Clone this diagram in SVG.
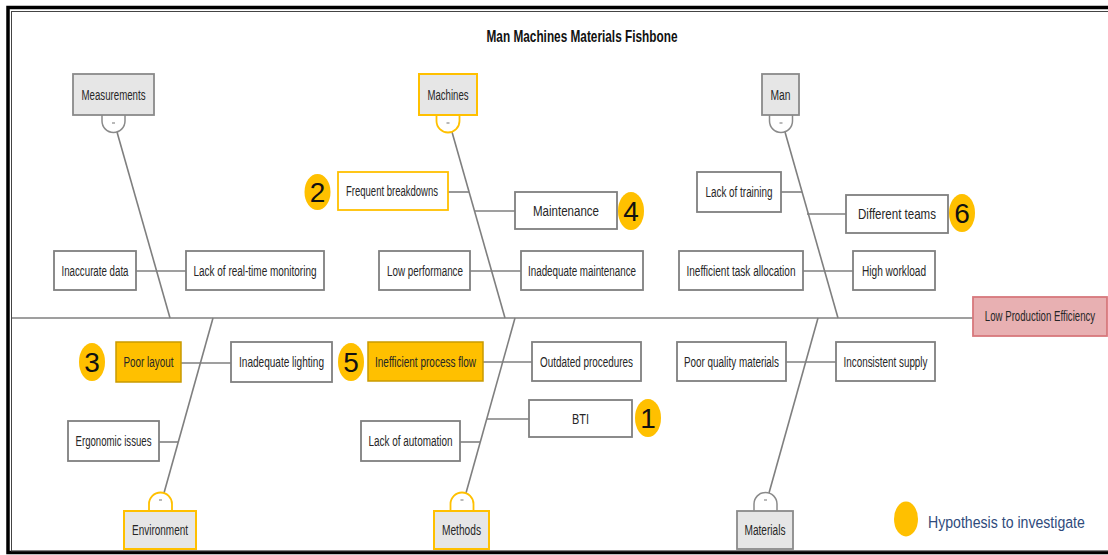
<svg xmlns="http://www.w3.org/2000/svg" width="1108" height="555" viewBox="0 0 1108 555">
  <style>
    text { font-family: "Liberation Sans", Arial, sans-serif; fill: #262626; }
    .t { font-size: 14px; text-anchor: middle; }
    .box { fill: #ffffff; stroke: #7f7f7f; stroke-width: 1.8; }
    .hot { fill: #ffc000; stroke: #c99a00; stroke-width: 1.5; }
    .cat { fill: #e6e6e6; stroke: #8a8a8a; stroke-width: 1.8; }
    .catY { fill: #e6e6e6; stroke: #ffc000; stroke-width: 2; }
    .arc { fill: #ffffff; stroke: #8a8a8a; stroke-width: 1.5; }
    .arcY { fill: #ffffff; stroke: #ffc000; stroke-width: 1.8; }
    .dash { stroke: #8a8a8a; stroke-width: 1.2; }
    .ln { stroke: #7f7f7f; stroke-width: 1.6; fill: none; }
    .badge { fill: #ffc000; }
    .num { font-size: 28px; text-anchor: middle; fill: #111; }
    .title { font-size: 17px; font-weight: bold; text-anchor: middle; fill: #111; }
    .legend { font-size: 17px; fill: #2f4b7c; }
  </style>

  <rect width="1108" height="555" fill="#ffffff"/>
  <!-- double frame -->
  <rect x="8" y="7.5" width="1200" height="545" fill="none" stroke="#000" stroke-width="3.5"/>
  <rect x="11.5" y="11.5" width="1200" height="539.5" fill="none" stroke="#444" stroke-width="1"/>

  <text class="title" x="582" y="42" textLength="191" lengthAdjust="spacingAndGlyphs">Man Machines Materials Fishbone</text>

  <!-- spine, bones and branch lines -->
  <g id="connectors" class="ln">
    <line x1="12" y1="318" x2="973" y2="318"/>
    <line x1="117" y1="132" x2="170" y2="318"/>
    <line x1="452" y1="132" x2="505" y2="318"/>
    <line x1="785" y1="132" x2="838" y2="318"/>
    <line x1="164" y1="493" x2="213" y2="318"/>
    <line x1="466" y1="493" x2="515" y2="318"/>
    <line x1="769" y1="493" x2="818" y2="318"/>
    <line x1="136" y1="271" x2="186" y2="271"/>
    <line x1="470" y1="271" x2="521" y2="271"/>
    <line x1="803" y1="271" x2="853" y2="271"/>
    <line x1="181" y1="363" x2="231" y2="363"/>
    <line x1="483" y1="362" x2="532" y2="362"/>
    <line x1="786" y1="362" x2="836" y2="362"/>
    <line x1="448" y1="192" x2="469" y2="192"/>
    <line x1="474" y1="211" x2="515" y2="211"/>
    <line x1="781" y1="192" x2="802" y2="192"/>
    <line x1="807" y1="214" x2="846" y2="214"/>
    <line x1="159" y1="442" x2="178" y2="442"/>
    <line x1="460" y1="442" x2="480" y2="442"/>
    <line x1="487" y1="419" x2="529" y2="419"/>
  </g>

  <!-- category heads -->
  <g id="measurements">
    <path class="arc" d="M102,115 V121 A11.5,11.5 0 0 0 125,121 V115"/>
    <line class="dash" x1="112" y1="123" x2="115" y2="123"/>
    <rect class="cat" x="73" y="74" width="81" height="41"/>
    <text class="t" x="113.5" y="100" textLength="64" lengthAdjust="spacingAndGlyphs">Measurements</text>
  </g>
  <g id="machines">
    <path class="arcY" d="M436.5,115 V121 A11.5,11.5 0 0 0 459.5,121 V115"/>
    <line class="dash" x1="446.5" y1="123" x2="449.5" y2="123"/>
    <rect class="catY" x="419" y="74" width="58" height="41"/>
    <text class="t" x="448" y="100" textLength="41" lengthAdjust="spacingAndGlyphs">Machines</text>
  </g>
  <g id="man">
    <path class="arc" d="M769.5,115 V121 A11.5,11.5 0 0 0 792.5,121 V115"/>
    <line class="dash" x1="779.5" y1="123" x2="782.5" y2="123"/>
    <rect class="cat" x="762" y="74" width="37" height="41"/>
    <text class="t" x="780.5" y="100" textLength="20" lengthAdjust="spacingAndGlyphs">Man</text>
  </g>
  <g id="environment">
    <path class="arcY" d="M149,511 V504 A11.5,11.5 0 0 1 172,504 V511"/>
    <line class="dash" x1="159" y1="500" x2="162" y2="500"/>
    <rect class="catY" x="124" y="511" width="72" height="38"/>
    <text class="t" x="160" y="535" textLength="56" lengthAdjust="spacingAndGlyphs">Environment</text>
  </g>
  <g id="methods">
    <path class="arcY" d="M450.5,511 V504 A11.5,11.5 0 0 1 473.5,504 V511"/>
    <line class="dash" x1="460.5" y1="500" x2="463.5" y2="500"/>
    <rect class="catY" x="434" y="511" width="55" height="38"/>
    <text class="t" x="461.5" y="535" textLength="39" lengthAdjust="spacingAndGlyphs">Methods</text>
  </g>
  <g id="materials">
    <path class="arc" d="M754,511 V504 A11.5,11.5 0 0 1 777,504 V511"/>
    <line class="dash" x1="764" y1="500" x2="767" y2="500"/>
    <rect class="cat" x="737" y="511" width="56" height="38"/>
    <text class="t" x="765" y="535" textLength="41" lengthAdjust="spacingAndGlyphs">Materials</text>
  </g>

  <!-- effect -->
  <g id="effect">
    <rect x="973" y="297" width="134" height="39" fill="#e8b0b2" stroke="#d7787c" stroke-width="1.8"/>
    <text class="t" transform="translate(1040,321) scale(0.69,1)" x="0" y="0">Low Production Efficiency</text>
  </g>

  <!-- causes: measurements -->
  <g id="inaccurate-data">
    <rect class="box" x="54" y="251" width="82" height="39"/>
    <text class="t" x="95" y="275.5" textLength="67" lengthAdjust="spacingAndGlyphs">Inaccurate data</text>
  </g>
  <g id="lack-monitoring">
    <rect class="box" x="186" y="251" width="138" height="39"/>
    <text class="t" x="255" y="275.5" textLength="123" lengthAdjust="spacingAndGlyphs">Lack of real-time monitoring</text>
  </g>

  <!-- causes: machines -->
  <g id="frequent-breakdowns">
    <rect class="box" x="338" y="172" width="110" height="38" style="stroke:#ffc000"/>
    <text class="t" x="392" y="196" textLength="92" lengthAdjust="spacingAndGlyphs">Frequent breakdowns</text>
  </g>
  <g id="maintenance">
    <rect class="box" x="515" y="192" width="102" height="37"/>
    <text class="t" x="566" y="215.5" textLength="66" lengthAdjust="spacingAndGlyphs">Maintenance</text>
  </g>
  <g id="low-performance">
    <rect class="box" x="379" y="251" width="91" height="39"/>
    <text class="t" x="425" y="275.5" textLength="76" lengthAdjust="spacingAndGlyphs">Low performance</text>
  </g>
  <g id="inadequate-maintenance">
    <rect class="box" x="521" y="251" width="122" height="39"/>
    <text class="t" x="582" y="275.5" textLength="108" lengthAdjust="spacingAndGlyphs">Inadequate maintenance</text>
  </g>

  <!-- causes: man -->
  <g id="lack-training">
    <rect class="box" x="697" y="172" width="84" height="40"/>
    <text class="t" x="739" y="196.5" textLength="67" lengthAdjust="spacingAndGlyphs">Lack of training</text>
  </g>
  <g id="different-teams">
    <rect class="box" x="846" y="195" width="102" height="38"/>
    <text class="t" x="897" y="218.5" textLength="78" lengthAdjust="spacingAndGlyphs">Different teams</text>
  </g>
  <g id="task-allocation">
    <rect class="box" x="679" y="251" width="124" height="39"/>
    <text class="t" x="741" y="275.5" textLength="109" lengthAdjust="spacingAndGlyphs">Inefficient task allocation</text>
  </g>
  <g id="high-workload">
    <rect class="box" x="853" y="251" width="82" height="39"/>
    <text class="t" x="894" y="275.5" textLength="64" lengthAdjust="spacingAndGlyphs">High workload</text>
  </g>

  <!-- causes: environment -->
  <g id="poor-layout">
    <rect class="hot" x="116" y="342" width="65" height="40"/>
    <text class="t" x="148.5" y="367" textLength="50" lengthAdjust="spacingAndGlyphs">Poor layout</text>
  </g>
  <g id="inadequate-lighting">
    <rect class="box" x="231" y="342" width="101" height="40"/>
    <text class="t" transform="translate(281.5,367) scale(0.72,1)" x="0" y="0" textLength="118" lengthAdjust="spacingAndGlyphs">Inadequate lighting</text>
  </g>
  <g id="ergonomic-issues">
    <rect class="box" x="68" y="421" width="91" height="40"/>
    <text class="t" x="113.5" y="446" textLength="76" lengthAdjust="spacingAndGlyphs">Ergonomic issues</text>
  </g>

  <!-- causes: methods -->
  <g id="process-flow">
    <rect class="hot" x="368" y="342" width="115" height="39"/>
    <text class="t" transform="translate(425.5,366.5) scale(0.71,1)" x="0" y="0" textLength="142.3" lengthAdjust="spacingAndGlyphs">Inefficient process flow</text>
  </g>
  <g id="outdated-procedures">
    <rect class="box" x="532" y="342" width="109" height="39"/>
    <text class="t" x="586.5" y="366.5" textLength="93" lengthAdjust="spacingAndGlyphs">Outdated procedures</text>
  </g>
  <g id="bti">
    <rect class="box" x="529" y="400" width="103" height="37"/>
    <text class="t" x="580.5" y="423.5" textLength="17" lengthAdjust="spacingAndGlyphs">BTI</text>
  </g>
  <g id="lack-automation">
    <rect class="box" x="361" y="421" width="99" height="40"/>
    <text class="t" x="410.5" y="446" textLength="84" lengthAdjust="spacingAndGlyphs">Lack of automation</text>
  </g>

  <!-- causes: materials -->
  <g id="poor-quality-materials">
    <rect class="box" x="677" y="342" width="109" height="39"/>
    <text class="t" x="731.5" y="366.5" textLength="95" lengthAdjust="spacingAndGlyphs">Poor quality materials</text>
  </g>
  <g id="inconsistent-supply">
    <rect class="box" x="836" y="342" width="99" height="39"/>
    <text class="t" x="885.5" y="366.5" textLength="84" lengthAdjust="spacingAndGlyphs">Inconsistent supply</text>
  </g>

  <!-- hypothesis markers -->
  <g id="hypotheses">
    <ellipse class="badge" cx="648" cy="418" rx="13" ry="19"/>
    <text class="num" x="648" y="428">1</text>
    <ellipse class="badge" cx="317.5" cy="192" rx="13" ry="18"/>
    <text class="num" x="317.5" y="202">2</text>
    <ellipse class="badge" cx="92" cy="362" rx="13" ry="19"/>
    <text class="num" x="92" y="372">3</text>
    <ellipse class="badge" cx="631" cy="211" rx="13" ry="19"/>
    <text class="num" x="631" y="221">4</text>
    <ellipse class="badge" cx="351" cy="362" rx="13" ry="19"/>
    <text class="num" x="351" y="372">5</text>
    <ellipse class="badge" cx="962" cy="213" rx="13" ry="19"/>
    <text class="num" x="962" y="223">6</text>
  </g>

  <!-- legend -->
  <g id="legend">
    <ellipse class="badge" cx="906" cy="519" rx="12" ry="17.5"/>
    <text class="legend" transform="translate(928,528) scale(0.83,1)" x="0" y="0" textLength="189" lengthAdjust="spacingAndGlyphs">Hypothesis to investigate</text>
  </g>
</svg>
